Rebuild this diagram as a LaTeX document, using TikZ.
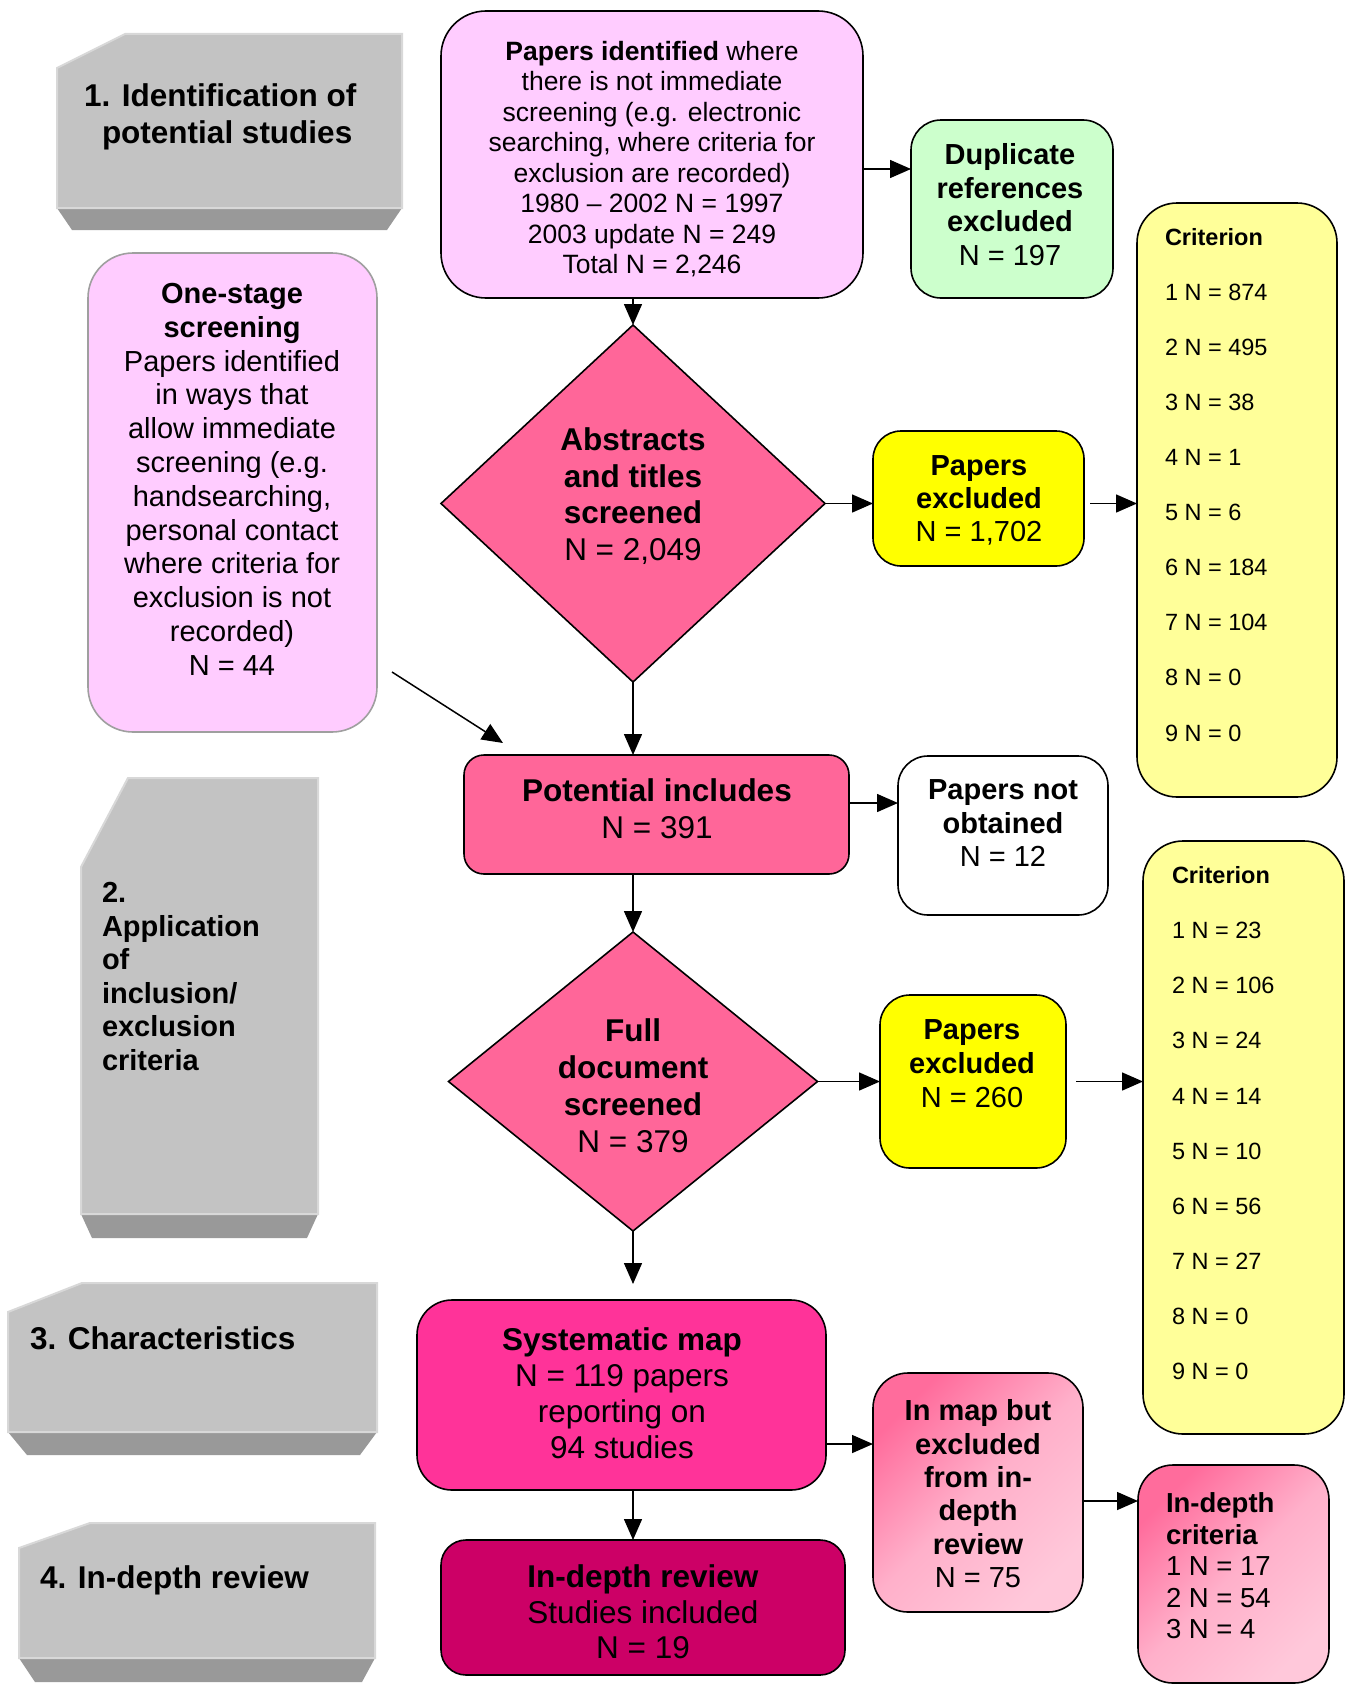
\documentclass[tikz,border=0pt]{standalone}
\usepackage{fontspec}
\setmainfont{Liberation Sans}
\usetikzlibrary{shapes.geometric,arrows.meta,calc}
\definecolor{lpink}{HTML}{FFCCFF}
\definecolor{lgreen}{HTML}{CCFFCC}
\definecolor{dpink}{HTML}{FF6699}
\definecolor{yel}{HTML}{FFFF00}
\definecolor{lyel}{HTML}{FFFF99}
\definecolor{hpink}{HTML}{FF3399}
\definecolor{mag}{HTML}{CC0066}
\definecolor{gface}{HTML}{C3C3C3}
\definecolor{gband}{HTML}{999999}
\definecolor{gedge}{HTML}{D8D8D8}
\definecolor{grada}{HTML}{FF6C9C}
\definecolor{gradb}{HTML}{FFB0CA}
\definecolor{gradc}{HTML}{FFC8DA}
\newcommand{\myfs}[2]{\fontsize{#1pt}{#2pt}\selectfont}
\begin{document}
\begin{tikzpicture}[x=1pt,y=-1pt,
  box/.style={draw=black,line width=1.6pt,inner sep=0pt,outer sep=0pt},
  arr/.style={line width=1.5pt,-{Triangle[length=21pt,width=18pt]}},
  lbl/.style={inner sep=0pt,outer sep=0pt,anchor=north,align=center},
  lbll/.style={inner sep=0pt,outer sep=0pt,anchor=north west,align=left},
  gradbox/.style={box,shade,shading=axis,top color=grada,bottom color=gradc,middle color=gradb,shading angle=45}
]
\useasboundingbox (0,0) rectangle (1346,1686);
\fill[white] (0,0) rectangle (1346,1686);

% grey stage labels
\fill[gband] (57,208) -- (402,208) -- (387,230) -- (72,230) -- cycle;
\filldraw[fill=gface,draw=gedge,line width=2pt] (57,68) -- (125,34) -- (402,34) -- (402,208) -- (57,208) -- cycle;
\node[lbll,font=\myfs{31.5}{37}\bfseries] (g1t) at (84,83.4) {1. Identification of\\\hspace*{18pt}potential studies};

\fill[gband] (81,1214) -- (318,1214) -- (307,1238) -- (92,1238) -- cycle;
\filldraw[fill=gface,draw=gedge,line width=2pt] (81,867) -- (128,778) -- (318,778) -- (318,1214) -- (81,1214) -- cycle;
\node[lbll,font=\myfs{29}{33.6}\bfseries] (g2t) at (102,882.2) {2.\\Application\\of\\inclusion/\\exclusion\\criteria};

\fill[gband] (8,1432) -- (377,1432) -- (360,1455) -- (27,1455) -- cycle;
\filldraw[fill=gface,draw=gedge,line width=2pt] (8,1312) -- (82,1283) -- (377,1283) -- (377,1432) -- (8,1432) -- cycle;
\node[lbll,font=\myfs{31.5}{33}\bfseries] (g3t) at (30,1326.4) {3. Characteristics};

\fill[gband] (19,1658) -- (375,1658) -- (362,1682) -- (35,1682) -- cycle;
\filldraw[fill=gface,draw=gedge,line width=2pt] (19,1548) -- (90,1523) -- (375,1523) -- (375,1658) -- (19,1658) -- cycle;
\node[lbll,font=\myfs{31.5}{33}\bfseries] (g4t) at (40,1565.4) {4. In-depth review};

% boxes
\node[box,fill=lpink,rounded corners=45pt,minimum width=422pt,minimum height=287pt] (A) at (652,154.5) {};
\node[box,fill=lgreen,rounded corners=30pt,minimum width=202pt,minimum height=178pt] (Dup) at (1012,209) {};
\node[box,draw=gray!75,fill=lpink,rounded corners=45pt,minimum width=289pt,minimum height=479pt] (OS) at (232.5,492.5) {};
\node[box,fill=dpink,shape=diamond,minimum width=384pt,minimum height=357pt] (D1) at (633,503.5) {};
\node[box,fill=yel,rounded corners=28pt,minimum width=211pt,minimum height=135pt] (PE1) at (978.5,498.5) {};
\node[box,fill=lyel,rounded corners=40pt,minimum width=200pt,minimum height=594pt] (C1) at (1237,500) {};
\node[box,fill=dpink,rounded corners=20pt,minimum width=385pt,minimum height=119pt] (PI) at (656.5,814.5) {};
\node[box,fill=white,rounded corners=30pt,minimum width=210pt,minimum height=159pt] (PNO) at (1003,835.5) {};
\node[box,fill=dpink,shape=diamond,minimum width=369pt,minimum height=299pt] (D2) at (633,1081.5) {};
\node[box,fill=yel,rounded corners=30pt,minimum width=186pt,minimum height=173pt] (PE2) at (973,1081.5) {};
\node[box,fill=lyel,rounded corners=40pt,minimum width=201pt,minimum height=593pt] (C2) at (1243.5,1137.5) {};
\node[box,fill=hpink,rounded corners=35pt,minimum width=409pt,minimum height=190pt] (SM) at (621.5,1395) {};
\node[box,fill=mag,rounded corners=25pt,minimum width=404pt,minimum height=135pt] (IDR) at (643,1607.5) {};
\node[gradbox,rounded corners=35pt,minimum width=210pt,minimum height=239pt] (IMB) at (978,1492.5) {};
\node[gradbox,rounded corners=35pt,minimum width=191pt,minimum height=218pt] (IDC) at (1233.5,1574) {};

% texts
\node[lbl,font=\myfs{26.5}{30.5}] (At) at (652,41) {\textbf{Papers identified} where\\there is not immediate\\screening (e.g. electronic\\searching, where criteria for\\exclusion are recorded)\\1980 – 2002 N = 1997\\2003 update N = 249\\Total N = 2,246};
\node[lbl,font=\myfs{29}{33.6}] (Dupt) at (1010,143.6) {\textbf{Duplicate}\\\textbf{references}\\\textbf{excluded}\\N = 197};
\node[lbl,font=\myfs{29}{33.8}] (OSt) at (232,283.2) {\textbf{One-stage}\\\textbf{screening}\\Papers identified\\in ways that\\allow immediate\\screening (e.g.\\handsearching,\\personal contact\\where criteria for\\exclusion is not\\recorded)\\N = 44};
\node[lbl,font=\myfs{31.5}{36.5}] (D1t) at (633,427.7) {\textbf{Abstracts}\\\textbf{and titles}\\\textbf{screened}\\N = 2,049};
\node[lbl,font=\myfs{29}{33.3}] (PE1t) at (979,455.2) {\textbf{Papers}\\\textbf{excluded}\\N = 1,702};
\node[lbll,font=\myfs{23.5}{55.1}] (C1t) at (1165,228.1) {\textbf{Criterion}\\1 N = 874\\2 N = 495\\3 N = 38\\4 N = 1\\5 N = 6\\6 N = 184\\7 N = 104\\8 N = 0\\9 N = 0};
\node[lbl,font=\myfs{31.5}{37}] (PIt) at (657,778.7) {\textbf{Potential includes}\\N = 391};
\node[lbl,font=\myfs{29}{33.5}] (PNOt) at (1003,779.6) {\textbf{Papers not}\\\textbf{obtained}\\N = 12};
\node[lbl,font=\myfs{31.5}{37}] (D2t) at (633,1018.7) {\textbf{Full}\\\textbf{document}\\\textbf{screened}\\N = 379};
\node[lbl,font=\myfs{29}{33.8}] (PE2t) at (972,1019.6) {\textbf{Papers}\\\textbf{excluded}\\N = 260};
\node[lbll,font=\myfs{23.5}{55.1}] (C2t) at (1172,866.6) {\textbf{Criterion}\\1 N = 23\\2 N = 106\\3 N = 24\\4 N = 14\\5 N = 10\\6 N = 56\\7 N = 27\\8 N = 0\\9 N = 0};
\node[lbl,font=\myfs{31.5}{36.2}] (SMt) at (622,1327.2) {\textbf{Systematic map}\\N = 119 papers\\reporting on\\94 studies};
\node[lbl,font=\myfs{31.5}{35.5}] (IDRt) at (643,1564.7) {\textbf{In-depth review}\\Studies included\\N = 19};
\node[lbl,font=\myfs{29}{33.4}] (IMBt) at (978,1399.6) {\textbf{In map but}\\\textbf{excluded}\\\textbf{from in-}\\\textbf{depth}\\\textbf{review}\\N = 75};
\node[lbll,font=\myfs{27.5}{31.5}] (IDCt) at (1166,1492.8) {\textbf{In-depth}\\\textbf{criteria}\\1 N = 17\\2 N = 54\\3 N = 4};

% connectors
\coordinate (os1) at (392,672);
\coordinate (os2) at (503,743);
\draw[arr] (A.east |- 0,169) -- (Dup.west |- 0,169);
\draw[arr] (D1.north |- A.south) -- (D1.north);
\draw[arr] (D1.east) -- (D1.east -| PE1.west);
\draw[arr,shorten <=6pt] (PE1.east |- D1.east) -- (C1.west |- D1.east);
\draw[arr] (os1) -- (os2);
\draw[arr] (D1.south) -- (D1.south |- PI.north);
\draw[arr] (PI.east |- 0,803) -- (PNO.west |- 0,803);
\draw[arr] (D1.south |- PI.south) -- (D2.north);
\draw[arr] (D2.east) -- (D2.east -| PE2.west);
\draw[arr,shorten <=10pt] (PE2.east |- D2.east) -- (C2.west |- D2.east);
\draw[arr,shorten >=16pt] (D2.south) -- (D2.south |- SM.north);
\draw[arr] (D2.south |- SM.south) -- (D2.south |- IDR.north);
\draw[arr] (SM.east |- 0,1444) -- (IMB.west |- 0,1444);
\draw[arr] (IMB.east |- 0,1501) -- (IDC.west |- 0,1501);
\end{tikzpicture}
\end{document}
